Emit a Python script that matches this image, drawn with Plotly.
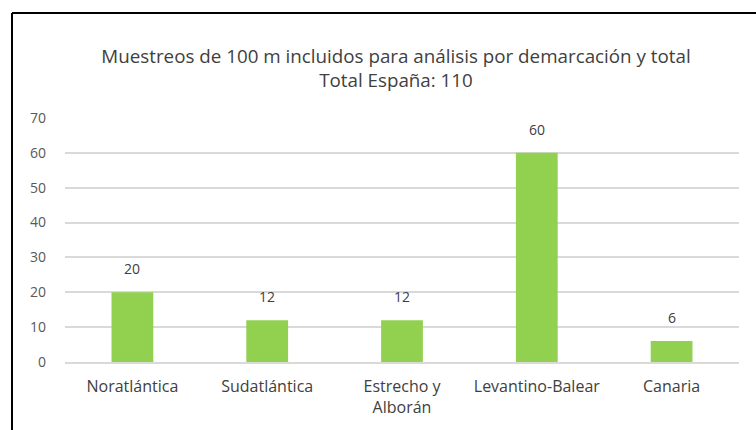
import plotly.graph_objects as go

# data
categories = ["Noratlántica", "Sudatlántica", "Estrecho y<br>Alborán", "Levantino-Balear", "Canaria"]
values = [20, 12, 12, 60, 6]
y_ticks = [0, 10, 20, 30, 40, 50, 60, 70]

title_text = "Muestreos de 100 m incluidos para análisis por demarcación y total<br>Total España: 110"

W, H = 756, 430
ml, mr, mt, mb = 65, 17, 118, 68
pw, ph = W - ml - mr, H - mt - mb


def px_x(p):
    return (p - ml) / pw


def px_y(p):
    return (H - mb - p) / ph


font_family = "'Open Sans', 'Noto Sans', sans-serif"

fig = go.Figure()
fig.add_trace(go.Bar(
    x=categories,
    y=values,
    marker=dict(color="#92D050", line=dict(width=0)),
    hoverinfo="x+y",
))

# data labels above each bar
for c, v in zip(categories, values):
    fig.add_annotation(
        x=c, y=v, text=str(v), showarrow=False,
        yanchor="bottom", yshift=12,
        font=dict(family=font_family, size=14, color="#404040"),
    )

# black frame edges of the cropped Excel chart (top and left only are visible)
frame = dict(color="black", width=2)
fig.add_shape(type="line", xref="paper", yref="paper",
              x0=px_x(12), x1=px_x(760), y0=px_y(13), y1=px_y(13), line=frame)
fig.add_shape(type="line", xref="paper", yref="paper",
              x0=px_x(12), x1=px_x(12), y0=px_y(13), y1=px_y(440), line=frame)

fig.update_layout(
    width=W, height=H,
    margin=dict(l=ml, r=mr, t=mt, b=mb, autoexpand=False),
    paper_bgcolor="white",
    plot_bgcolor="white",
    bargap=0.69,
    showlegend=False,
    font=dict(family=font_family, size=14, color="#595959"),
    title=dict(
        text=title_text,
        xref="container", x=396 / W, xanchor="center",
        yref="container", y=1 - 63 / H, yanchor="top",
        font=dict(family=font_family, size=18.8, color="#404040"),
    ),
)

fig.update_yaxes(
    range=[0, 70],
    tickvals=y_ticks,
    showgrid=True, gridcolor="#D9D9D9", gridwidth=1.5,
    zeroline=False, showline=False,
    ticks="", ticklabelstandoff=18,
    tickfont=dict(family=font_family, size=14, color="#595959"),
)
fig.update_xaxes(
    showgrid=False, showline=True, linecolor="#D9D9D9", linewidth=1.5,
    ticks="", ticklabelstandoff=9,
    tickfont=dict(family=font_family, size=16, color="#404040"),
)

# drop the default 8px page margin so the chart fills the window
fig.write_html(
    "out.html",
    config={"displayModeBar": False},
    post_script="document.body.style.margin='0';",
)
